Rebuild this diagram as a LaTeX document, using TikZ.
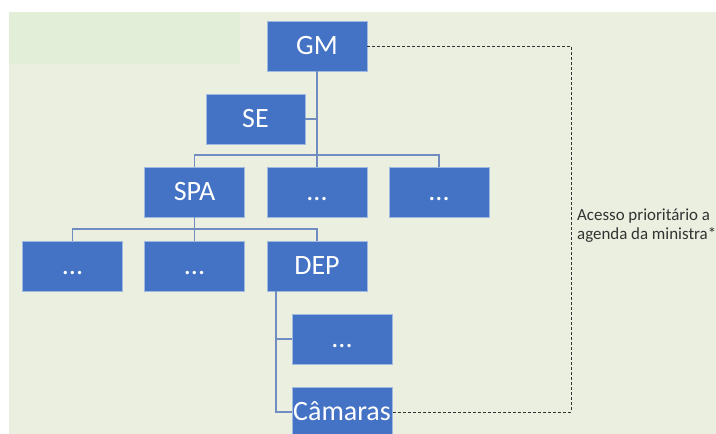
\documentclass[tikz,border=0pt]{standalone}
\usepackage{fontspec}
\setmainfont{Carlito}
\definecolor{slidebg}{RGB}{234,239,223}
\definecolor{panelbg}{RGB}{226,238,216}
\definecolor{unitblue}{RGB}{68,114,196}
\definecolor{unitedge}{RGB}{160,185,225}
\definecolor{linkblue}{RGB}{112,140,192}
\definecolor{notegray}{RGB}{50,50,50}
\tikzset{
  unit/.style={draw=unitedge, line width=0.8pt, fill=unitblue, text=white,
    minimum width=100pt, minimum height=50pt, inner sep=0pt,
    text height=17.5pt, text depth=0pt,
    font=\fontsize{28}{32}\selectfont},
  link/.style={draw=linkblue, line width=1.3pt},
  access/.style={draw=notegray, line width=1pt, dash pattern=on 3pt off 2pt},
}
\begin{document}
\begin{tikzpicture}[x=1pt, y=-1pt]
  % page frame and backdrop
  \useasboundingbox (0,0) rectangle (716,434);
  \clip (0,0) rectangle (716,434);
  \fill[white] (0,0) rectangle (716,434);
  \fill[slidebg] (9,12) rectangle (716,434);
  \fill[panelbg] (9,12) rectangle (240,64);

  % organisational units
  \node[unit] (GM)   at (317,46)   {GM};
  \node[unit, minimum width=99pt] (SE) at (255.5,119) {SE};
  \node[unit] (SPA)  at (194.5,192) {SPA};
  \node[unit] (U2)   at (317,192)  {...};
  \node[unit] (U3)   at (439,192)  {...};
  \node[unit] (S1)   at (72.5,266) {...};
  \node[unit] (S2)   at (194.5,266) {...};
  \node[unit] (DEP)  at (317,266)  {DEP};
  \node[unit] (D1)   at (342,339)  {...};
  \node[unit] (CAM)  at (342,412)  {Câmaras};

  % hierarchy links
  \coordinate (bar1) at (0,155);
  \coordinate (bar2) at (0,229);
  \coordinate (depspine) at (276,0);
  \draw[link] (GM.south) -- (U2.north);
  \draw[link] (SE.east) -- (SE.east -| GM.south);
  \draw[link] (SPA.north) -- (SPA.north |- bar1) -- (U3.north |- bar1) -- (U3.north);
  \draw[link] (SPA.south) -- (S2.north);
  \draw[link] (S1.north) -- (S1.north |- bar2) -- (DEP.north |- bar2) -- (DEP.north);
  \draw[link] (DEP.south -| depspine) -- (CAM.west -| depspine) -- (CAM.west);
  \draw[link] (D1.west -| depspine) -- (D1.west);

  % direct access route
  \coordinate (turn) at (571,0);
  \draw[access] (GM.east) -- (GM.east -| turn) -- (CAM.east -| turn) -- (CAM.east);

  \node[anchor=north west, align=left, inner sep=0pt, text=notegray,
        font=\fontsize{16.9}{19}\selectfont] (note) at (577,209)
        {Acesso prioritário a\\agenda da ministra*};
\end{tikzpicture}
\end{document}
